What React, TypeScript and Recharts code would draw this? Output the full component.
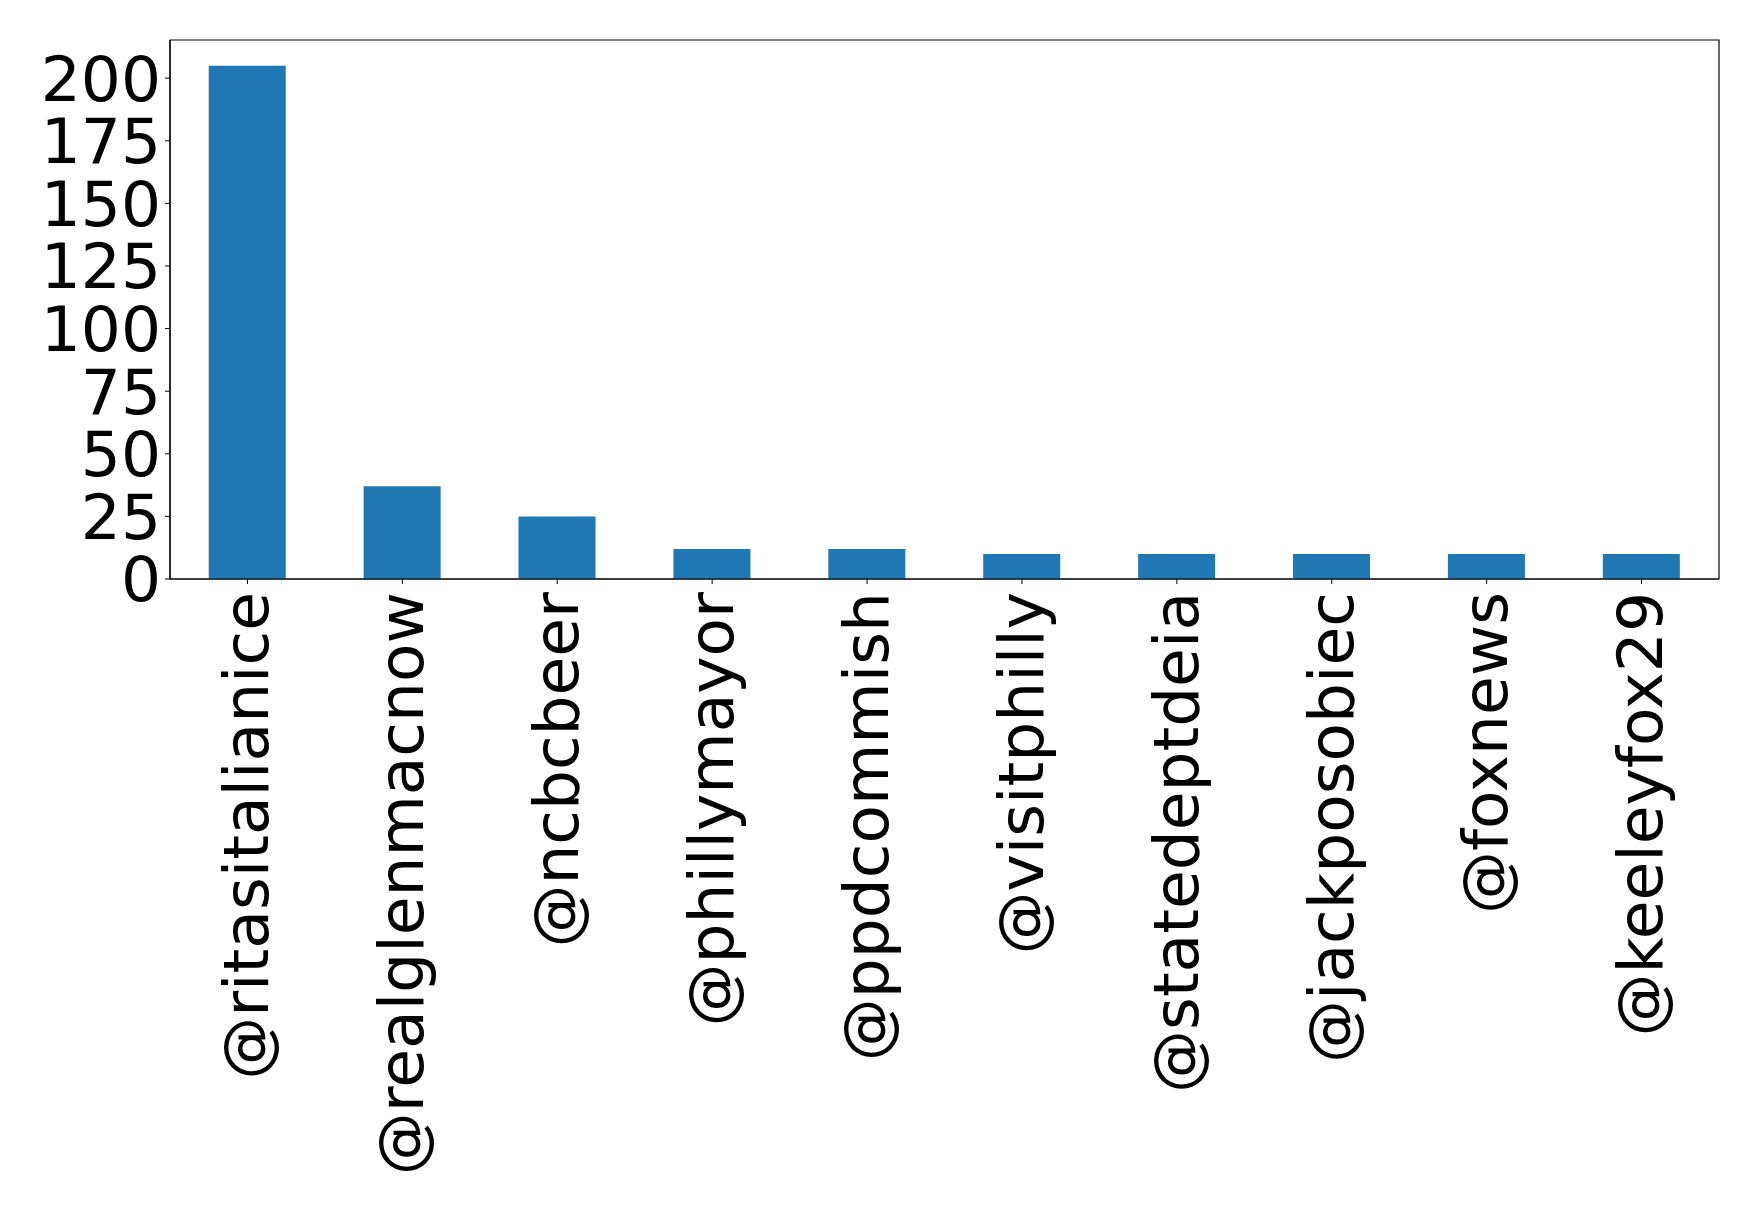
import React from 'react';
import { Bar, BarChart, ReferenceArea, XAxis, YAxis } from 'recharts';

// top mentioned accounts, counts
const handles = [
    '@ritasitalianice',
    '@realglenmacnow',
    '@ncbcbeer',
    '@phillymayor',
    '@ppdcommish',
    '@visitphilly',
    '@statedeptdeia',
    '@jackposobiec',
    '@foxnews',
    '@keeleyfox29',
];
const counts = [205, 37, 25, 12, 12, 10, 10, 10, 10, 10];
const yTicks = [0, 25, 50, 75, 100, 125, 150, 175, 200];
const yMax = 215.25; // 205 * 1.05 headroom like matplotlib

const data = handles.map((name, i) => ({ name, count: counts[i] }));

const FONT = 'DejaVu Sans';
const FONT_SIZE = 63;

const RotatedTick = (props: any) => {
    const { x, y, payload } = props;
    return (
        <text
            x={0}
            y={0}
            transform={`translate(${x},${y}) rotate(-90)`}
            textAnchor="end"
            dy="0.33em"
            fontFamily={FONT}
            fontSize={FONT_SIZE}
            fill="#000"
        >
            {payload.value}
        </text>
    );
};

const App = () => {
    return (
        <div style={{ position: 'absolute', top: 0, left: 0, background: '#fff' }}>
            <BarChart
                width={1758}
                height={1207}
                data={data}
                margin={{ top: 40, right: 39, left: 0, bottom: 0 }}
                barCategoryGap="25%"
            >
                <XAxis
                    dataKey="name"
                    interval={0}
                    height={628}
                    tick={<RotatedTick />}
                    tickSize={5}
                    tickMargin={8}
                    stroke="#000"
                    axisLine={{ stroke: '#000', strokeWidth: 1.2 }}
                    tickLine={{ stroke: '#000' }}
                />
                <YAxis
                    width={170}
                    domain={[0, yMax]}
                    ticks={yTicks}
                    interval={0}
                    tickSize={5}
                    tickMargin={4}
                    stroke="#000"
                    tick={{ fontFamily: FONT, fontSize: FONT_SIZE, fill: '#000' }}
                    axisLine={{ stroke: '#000', strokeWidth: 1.2 }}
                    tickLine={{ stroke: '#000' }}
                />
                <Bar dataKey="count" fill="#1f77b4" isAnimationActive={false} />
                {/* frame around the plot area */}
                <ReferenceArea
                    x1={handles[0]}
                    x2={handles[handles.length - 1]}
                    y1={0}
                    y2={yMax}
                    fill="none"
                    fillOpacity={0}
                    stroke="#000"
                    strokeWidth={1.2}
                    ifOverflow="visible"
                />
            </BarChart>
        </div>
    );
};

export default App;
